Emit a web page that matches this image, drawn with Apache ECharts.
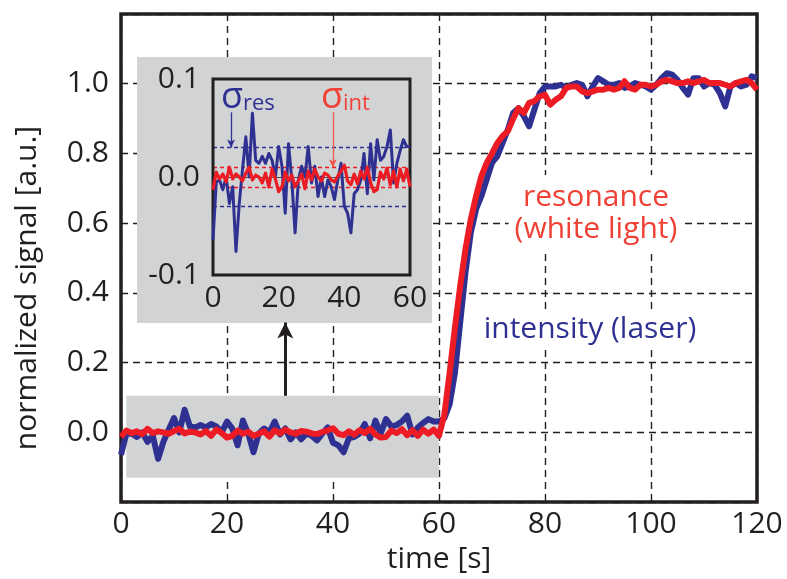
<!DOCTYPE html>
<html><head><meta charset="utf-8">
<script src="https://cdn.jsdelivr.net/npm/echarts@6/dist/echarts.min.js"></script>
<style>html,body{margin:0;padding:0;background:#fff}#c{width:787px;height:579px}</style>
</head><body><div id="c"></div>
<script>
// ---- data ----
const time = Array.from({length: 121}, (_, i) => i);        // sample times [s]
const blueBase = [-0.064,-0.005,-0.003,-0.013,0.000,-0.027,-0.010,-0.076,-0.027,0.008,
  0.041,0.000,0.065,0.017,0.014,0.021,0.014,0.024,0.017,0.000,
  0.031,0.011,-0.037,0.034,-0.003,-0.057,-0.003,0.011,0.000,0.031,
  -0.006,0.011,-0.020,0.000,-0.020,-0.003,-0.010,-0.023,-0.003,0.014,
  -0.030,-0.037,-0.057,-0.017,-0.013,-0.003,0.024,-0.017,0.034,-0.003,
  0.038,0.017,0.021,0.031,0.048,-0.006,0.014,0.027,0.038,0.031,0.031];
const blueRise = [0.04,0.08,0.17,0.316,0.459,0.573,0.64,0.678,0.726,0.773,
  0.792,0.83,0.869,0.916,0.93,0.907,0.878,0.926,0.973,0.992,
  0.992,0.992,0.997,0.988,0.997,1.002,0.997,0.964,0.992,1.016,
  1.007,0.997,0.997,1.002,0.988,0.992,1.002,0.997,0.992,0.983,
  0.997,1.016,1.03,1.026,1.011,0.988,0.969,1.016,1.016,0.992,
  1.002,0.997,0.973,0.935,0.992,1.002,0.992,0.997,1.021,1.016];
const redBase = [-0.013,0.005,-0.002,0.003,-0.005,0.010,-0.002,0.003,0.000,-0.004,
  0.004,0.010,-0.003,0.002,0.000,-0.006,0.004,-0.010,0.008,-0.002,
  -0.015,-0.010,0.005,-0.004,0.002,-0.010,-0.004,0.003,-0.012,0.006,
  -0.003,0.008,0.000,-0.004,0.004,0.002,-0.003,-0.005,0.001,0.006,
  0.012,-0.004,-0.008,0.003,-0.007,0.006,-0.002,0.010,-0.006,-0.015,
  -0.013,0.005,-0.002,0.009,-0.008,0.006,-0.010,0.008,-0.004,0.008,-0.010];
const redRise = [0.05,0.17,0.30,0.42,0.526,0.611,0.678,0.735,0.773,0.80,
  0.83,0.85,0.864,0.90,0.93,0.916,0.945,0.95,0.964,0.968,
  0.94,0.954,0.964,0.988,0.992,0.992,0.978,0.973,0.978,0.983,
  0.983,0.988,0.983,0.988,1.007,0.988,0.983,0.997,0.997,0.992,
  0.997,1.007,1.011,1.007,1.002,1.002,1.007,1.002,1.007,1.011,
  1.002,1.002,1.002,0.997,0.992,1.002,1.007,1.011,1.002,0.983];
const blueSignal = blueBase.concat(blueRise);   // intensity (laser)
const redSignal = redBase.concat(redRise);      // resonance (white light)
const insetEnd = 60;                            // inset shows 0..60 s
const sigmaRes = 0.028;
const sigmaInt = 0.008;
const highlightX = [1, 60];
const highlightY = [-0.13, 0.105];
const zoomArrow = {x: 31, y: [0.105, 0.315]};
const sigmaResArrow = {x: 5.5, y: [0.066, 0.030]};
const sigmaIntArrow = {x: 36.5, y: [0.066, 0.010]};
const mainXTicks = {min: 0, max: 120, step: 20};
const mainYTicks = {min: -0.2, max: 1.2, step: 0.2};
const insetXTicks = {min: 0, max: 60, step: 20};
const insetYTicks = {min: -0.1, max: 0.1, step: 0.1};

// ---- styles ----
const FONT = 'Open Sans';
const INK = '#231f20';
const BLUE = '#2e3192';
const RED = '#ed1c24';
const RED_TEXT = '#ef4136';
const GRAY = '#d1d3d4';
const FS = 30;

const pairs = (arr, n) => time.slice(0, n).map((t, i) => [t, arr[i]]);
const fmt1 = v => (Math.abs(v) < 1e-9 ? 0 : v).toFixed(1);
const fontStr = s => s + 'px "' + FONT + '"';

const chart = echarts.init(document.getElementById('c'), null, {renderer: 'canvas'});
chart.setOption({
  animation: false,
  backgroundColor: '#fff',
  textStyle: {fontFamily: FONT},
  grid: [
    {left: 121, right: 30, top: 14, bottom: 75, show: true, borderColor: INK, borderWidth: 3.5, backgroundColor: 'transparent', z: 0},
    {left: 213, top: 79, width: 197, height: 196, show: true, borderColor: INK, borderWidth: 3, backgroundColor: 'transparent', z: 6}
  ],
  xAxis: [
    {type: 'value', gridIndex: 0, min: mainXTicks.min, max: mainXTicks.max, interval: mainXTicks.step,
     axisLine: {show: false}, axisTick: {show: false},
     axisLabel: {fontSize: FS, color: INK, fontFamily: FONT, margin: 7},
     splitLine: {show: true, lineStyle: {color: INK, width: 1.4, type: [7, 5]}},
     name: 'time [s]', nameLocation: 'middle', nameGap: 41,
     nameTextStyle: {fontSize: FS, color: INK, fontFamily: FONT}},
    {type: 'value', gridIndex: 1, min: insetXTicks.min, max: insetXTicks.max, interval: insetXTicks.step, z: 6,
     axisLine: {show: false}, axisTick: {show: false},
     axisLabel: {fontSize: FS, color: INK, fontFamily: FONT, margin: 8},
     splitLine: {show: false}}
  ],
  yAxis: [
    {type: 'value', gridIndex: 0, min: mainYTicks.min, max: mainYTicks.max, interval: mainYTicks.step,
     axisLine: {show: false}, axisTick: {show: false},
     axisLabel: {fontSize: FS, color: INK, fontFamily: FONT, margin: 12, formatter: fmt1, showMinLabel: false, showMaxLabel: false},
     splitLine: {show: true, lineStyle: {color: INK, width: 1.4, type: [7, 5]}},
     name: 'normalized signal [a.u.]', nameLocation: 'middle', nameGap: 79, nameRotate: 90,
     nameTextStyle: {fontSize: FS, color: INK, fontFamily: FONT, padding: [0, 60, 0, 0]}},
    {type: 'value', gridIndex: 1, min: insetYTicks.min, max: insetYTicks.max, interval: insetYTicks.step, z: 6,
     axisLine: {show: false}, axisTick: {show: false},
     axisLabel: {fontSize: FS, color: INK, fontFamily: FONT, margin: 13, formatter: fmt1},
     splitLine: {show: false}}
  ],
  graphic: [
    {type: 'rect', z: 5, silent: true, shape: {x: 137, y: 57, width: 295, height: 266}, style: {fill: GRAY}},
    {type: 'text', z: 10, silent: true, style: {text: 'resonance\n(white light)', x: 596, y: 213, align: 'center', verticalAlign: 'middle',
      fill: RED_TEXT, font: fontStr(FS), lineHeight: 32, backgroundColor: '#fff', padding: [6, 6, 6, 6]}},
    {type: 'text', z: 10, silent: true, style: {text: 'intensity (laser)', x: 590, y: 329, align: 'center', verticalAlign: 'middle',
      fill: BLUE, font: fontStr(FS), backgroundColor: '#fff', padding: [5, 6, 5, 6]}},
    {type: 'text', z: 10, silent: true, style: {text: '{a|σ}{b|res}', x: 221, y: 100, align: 'left', verticalAlign: 'middle',
      rich: {a: {font: fontStr(36), fill: BLUE, padding: [0, 0, 4, 0]}, b: {font: fontStr(22), fill: BLUE, padding: [8, 0, 0, 0]}}}},
    {type: 'text', z: 10, silent: true, style: {text: '{a|σ}{b|int}', x: 321, y: 100, align: 'left', verticalAlign: 'middle',
      rich: {a: {font: fontStr(36), fill: RED_TEXT, padding: [0, 0, 4, 0]}, b: {font: fontStr(22), fill: RED_TEXT, padding: [8, 0, 0, 0]}}}}
  ],
  series: [
    {type: 'line', xAxisIndex: 0, yAxisIndex: 0, data: [], z: -1, silent: true,
     markArea: {silent: true, itemStyle: {color: GRAY, opacity: 1},
       data: [[{xAxis: highlightX[0], yAxis: highlightY[0]}, {xAxis: highlightX[1], yAxis: highlightY[1]}]]}},
    {name: 'intensity (laser)', type: 'line', xAxisIndex: 0, yAxisIndex: 0, z: 2,
     data: pairs(blueSignal, time.length), showSymbol: false, symbol: 'none',
     lineStyle: {color: BLUE, width: 6, join: 'round'}},
    {name: 'resonance (white light)', type: 'line', xAxisIndex: 0, yAxisIndex: 0, z: 3,
     data: pairs(redSignal, time.length), showSymbol: false, symbol: 'none',
     lineStyle: {color: RED, width: 6, join: 'round'},
     markLine: {silent: true, symbol: ['none', 'arrow'], symbolSize: [12, 16], label: {show: false},
       lineStyle: {color: INK, width: 3, type: 'solid'},
       data: [[{coord: [zoomArrow.x, zoomArrow.y[0]]}, {coord: [zoomArrow.x, zoomArrow.y[1]]}]]}},
    {name: 'inset intensity', type: 'line', xAxisIndex: 1, yAxisIndex: 1, z: 7,
     data: pairs(blueSignal, insetEnd + 1), showSymbol: false, symbol: 'none',
     lineStyle: {color: BLUE, width: 3, join: 'round'},
     markLine: {silent: true, symbol: ['none', 'none'], label: {show: false},
       data: [
         {yAxis: 0, lineStyle: {color: '#4d4d4f', width: 1, type: 'solid'}},
         {yAxis: sigmaRes, lineStyle: {color: BLUE, width: 1.3, type: [4, 3]}},
         {yAxis: -sigmaRes, lineStyle: {color: BLUE, width: 1.3, type: [4, 3]}},
         [{coord: [sigmaResArrow.x, sigmaResArrow.y[0]], symbol: 'none'},
          {coord: [sigmaResArrow.x, sigmaResArrow.y[1]], symbol: 'arrow', symbolSize: [6, 8],
           lineStyle: {color: BLUE, width: 1.3, type: 'solid'}}]
       ]}},
    {name: 'inset resonance', type: 'line', xAxisIndex: 1, yAxisIndex: 1, z: 8,
     data: pairs(redSignal, insetEnd + 1), showSymbol: false, symbol: 'none',
     lineStyle: {color: RED, width: 3.2, join: 'round'},
     markLine: {silent: true, symbol: ['none', 'none'], label: {show: false},
       data: [
         {yAxis: sigmaInt, lineStyle: {color: RED, width: 1.3, type: [4, 3]}},
         {yAxis: -sigmaInt, lineStyle: {color: RED, width: 1.3, type: [4, 3]}},
         [{coord: [sigmaIntArrow.x, sigmaIntArrow.y[0]], symbol: 'none'},
          {coord: [sigmaIntArrow.x, sigmaIntArrow.y[1]], symbol: 'arrow', symbolSize: [6, 8],
           lineStyle: {color: '#f15a4a', width: 1.3, type: 'solid'}}]
       ]}}
  ]
});
</script></body></html>
